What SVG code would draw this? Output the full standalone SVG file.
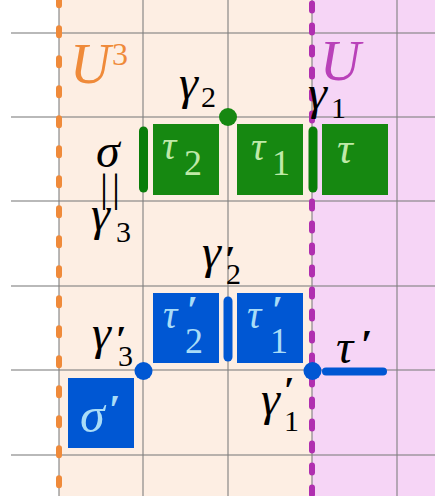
<svg xmlns="http://www.w3.org/2000/svg" width="435" height="496" viewBox="0 0 435 496">
<style>
.grid line{stroke:#808080;stroke-opacity:.55;stroke-width:2}
.gbox{fill:#168811}
.bbox{fill:#0057d3}
.gt{fill:#bfe9a8}
.bt{fill:#a9dcf7}
.bar{stroke-linecap:round;fill:none}
.p{font-weight:bold}
</style>
<rect x="0" y="0" width="435" height="496" fill="#ffffff"/>
<rect x="59" y="0" width="253" height="496" fill="#fdeee3"/>
<rect x="312" y="0" width="123" height="496" fill="#f6d5f6"/>
<g class="grid">
<line x1="11" y1="33" x2="435" y2="33"/>
<line x1="11" y1="117" x2="435" y2="117"/>
<line x1="11" y1="201" x2="435" y2="201"/>
<line x1="11" y1="286" x2="435" y2="286"/>
<line x1="11" y1="370" x2="435" y2="370"/>
<line x1="11" y1="455" x2="435" y2="455"/>
<line x1="59" y1="0" x2="59" y2="496"/>
<line x1="143" y1="0" x2="143" y2="496"/>
<line x1="228" y1="0" x2="228" y2="496"/>
<line x1="312" y1="0" x2="312" y2="496"/>
<line x1="397" y1="0" x2="397" y2="496"/>
</g>
<g font-family="Liberation Serif, DejaVu Serif, serif">
<g id="boundary-U3">
<line x1="59" y1="-1.8" x2="59" y2="500" stroke="#ef8a3a" stroke-width="6" stroke-linecap="round" stroke-dasharray="7 23"/>
<text font-style="italic" x="70" y="83" font-size="56" fill="#ef8a3a">U</text>
<text x="112" y="65" font-size="32" fill="#ef8a3a">3</text>
</g>
<g id="boundary-U">
<line x1="312" y1="3.5" x2="312" y2="500" stroke="#b02fb0" stroke-width="6" stroke-linecap="round" stroke-dasharray="7 15"/>
<text font-style="italic" x="320" y="80" font-size="56" fill="#b941b9">U</text>
</g>
<g id="connectors">
<line class="bar" x1="143.5" y1="131" x2="143.5" y2="188" stroke="#0a7d0a" stroke-width="9"/>
<line class="bar" x1="313" y1="131" x2="313" y2="188" stroke="#0a7d0a" stroke-width="9"/>
<line class="bar" x1="228" y1="301" x2="228" y2="357" stroke="#0057d3" stroke-width="9"/>
<line class="bar" x1="326" y1="371.5" x2="383" y2="371.5" stroke="#0057d3" stroke-width="8"/>
</g>
<g id="tau2">
<rect class="gbox" x="153" y="124" width="66" height="71"/>
<text class="gt" font-style="italic" x="162" y="159" font-size="40">τ</text>
<text class="gt" x="184" y="175" font-size="36">2</text>
</g>
<g id="tau1">
<rect class="gbox" x="237" y="124" width="66" height="71"/>
<text class="gt" font-style="italic" x="251" y="160" font-size="40">τ</text>
<text class="gt" x="272" y="175" font-size="36">1</text>
</g>
<g id="tau">
<rect class="gbox" x="322" y="124" width="66" height="71"/>
<text class="gt" font-style="italic" x="337" y="163" font-size="44">τ</text>
</g>
<g id="gamma2">
<circle cx="228" cy="117" r="9" fill="#168811"/>
<text font-style="italic" x="179" y="99" font-size="48">γ</text>
<text x="201" y="107" font-size="30">2</text>
</g>
<g id="gamma1">
<text font-style="italic" x="308" y="109" font-size="48">γ</text>
<text x="331" y="118" font-size="30">1</text>
</g>
<g id="sigma">
<text font-style="italic" x="96" y="167" font-size="48">σ</text>
<text x="112" y="201" font-size="40" letter-spacing="4" text-anchor="middle">||</text>
<text font-style="italic" x="91" y="230" font-size="48">γ</text>
<text x="116" y="242" font-size="30">3</text>
</g>
<g id="tau2p">
<rect class="bbox" x="153" y="293" width="66" height="70"/>
<text class="bt" font-style="italic" x="163" y="328" font-size="40">τ</text>
<text class="bt p" x="187" y="323" font-size="40">′</text>
<text class="bt" x="185" y="353" font-size="36">2</text>
</g>
<g id="tau1p">
<rect class="bbox" x="237" y="293" width="66" height="70"/>
<text class="bt" font-style="italic" x="247" y="328" font-size="40">τ</text>
<text class="bt p" x="272" y="323" font-size="40">′</text>
<text class="bt" x="270" y="353" font-size="36">1</text>
</g>
<g id="sigmap">
<rect class="bbox" x="68" y="378" width="66" height="70"/>
<text class="bt" font-style="italic" x="80" y="432" font-size="50">σ</text>
<text class="bt p" x="109" y="424" font-size="42">′</text>
</g>
<g id="gamma2p">
<text font-style="italic" x="202" y="268" font-size="48">γ</text>
<text class="p" x="225" y="272" font-size="38">′</text>
<text x="226" y="284" font-size="30">2</text>
</g>
<g id="gamma3p">
<circle cx="143.5" cy="371" r="9" fill="#0057d3"/>
<text font-style="italic" x="92" y="349" font-size="48">γ</text>
<text class="p" x="116" y="352" font-size="38">′</text>
<text x="118" y="366" font-size="30">3</text>
</g>
<g id="gamma1p">
<circle cx="312.5" cy="371" r="9" fill="#0057d3"/>
<text font-style="italic" x="261" y="415" font-size="48">γ</text>
<text class="p" x="284" y="403" font-size="38">′</text>
<text x="284" y="431" font-size="30">1</text>
</g>
<g id="taup">
<text font-style="italic" x="336" y="363" font-size="48">τ</text>
<text class="p" x="361" y="359" font-size="42">′</text>
</g>
</g>
</svg>
